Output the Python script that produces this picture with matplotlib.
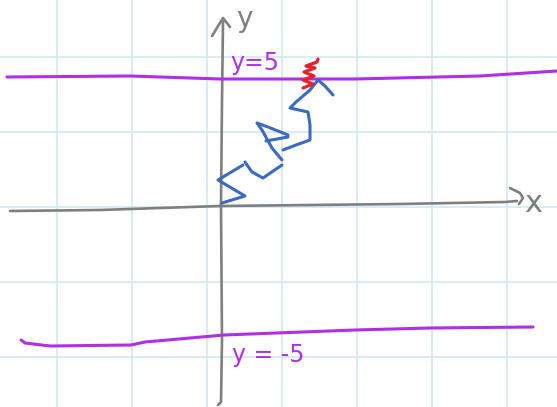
import numpy as np
import matplotlib.pyplot as plt

# sketch canvas in pixel units (origin top-left)
grid_x = [57, 132, 207, 282, 357, 432, 507]
grid_y = [57, 132, 207, 282, 357]

# hand-drawn strokes, (x, y) pixel points
x_axis = [(10, 211), (100, 210), (220, 206), (400, 204), (505, 202), (517, 201)]
x_arrow = [(510, 188), (520, 193), (523, 198), (519, 204)]
y_axis = [(218, 405), (221, 402), (222, 340), (221, 205), (222, 100), (223, 22)]
y_arrow = [(212, 36), (223, 18), (230, 27)]

line_top = [(7, 77), (130, 76), (220, 79), (355, 79), (480, 76), (557, 71)]
line_bottom = [(21, 340), (25, 343), (50, 346), (131, 345), (145, 342),
               (224, 335), (355, 330), (430, 328), (533, 327)]

walk = [
    [(222, 203), (245, 196), (218, 180), (243, 165)],
    [(245, 162), (252, 172), (263, 178), (282, 165)],
    [(282, 160), (272, 148), (262, 130), (257, 123), (268, 127), (288, 135)],
    [(266, 141), (288, 137)],
    [(283, 150), (296, 145), (310, 140), (310, 125), (308, 112), (290, 108),
     (296, 102), (310, 90), (318, 80), (325, 86), (333, 95)],
]
scribble = [(303, 88), (313, 84), (303, 80), (314, 76), (304, 72), (315, 68),
            (306, 66), (317, 62), (318, 59)]

labels_purple = [("y=5", 230, 70), ("y = -5", 232, 362)]

fig = plt.figure(figsize=(5.57, 4.07), dpi=100)
ax = fig.add_axes([0, 0, 1, 1])
ax.set_xlim(0, 557)
ax.set_ylim(407, 0)
ax.axis('off')

for gx in grid_x:
    ax.axvline(gx, color='#cde7f7', lw=1.1, zorder=0)
for gy in grid_y:
    ax.axhline(gy, color='#cde7f7', lw=1.1, zorder=0)

def stroke(pts, color, lw):
    pts = np.array(pts)
    ax.plot(pts[:, 0], pts[:, 1], color=color, lw=lw,
            solid_capstyle='round', solid_joinstyle='round')

gray = '#7f7f7f'
purple = '#b02ee6'
for s in [x_axis, x_arrow, y_axis, y_arrow]:
    stroke(s, gray, 1.9)
stroke(line_top, purple, 2.2)
stroke(line_bottom, purple, 2.2)
for s in walk:
    stroke(s, '#3a6bc3', 2.2)
stroke(scribble, '#e8202a', 2.3)

ax.text(524, 212, 'x', color=gray, fontsize=22, ha='left', va='baseline')
ax.text(236, 27, 'y', color=gray, fontsize=20, ha='left', va='baseline')
for txt, tx, ty in labels_purple:
    ax.text(tx, ty, txt, color=purple, fontsize=17, ha='left', va='baseline')

fig.savefig('out.png', dpi=100)
